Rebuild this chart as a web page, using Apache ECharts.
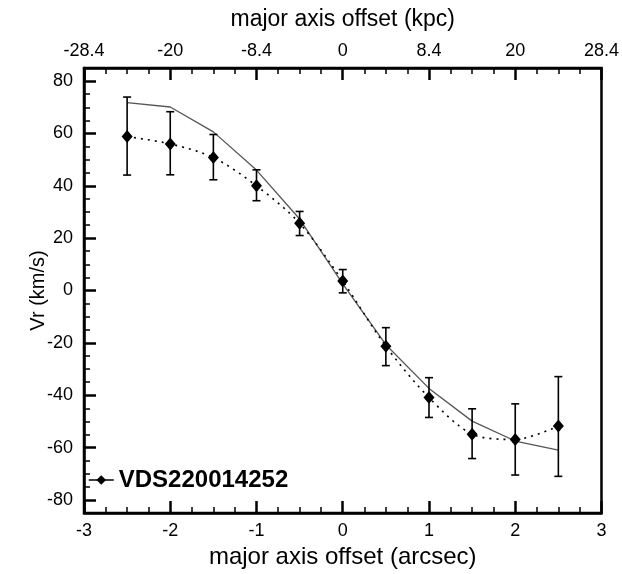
<!DOCTYPE html>
<html><head><meta charset="utf-8">
<script src="https://cdn.jsdelivr.net/npm/echarts@6/dist/echarts.min.js"></script>
<style>html,body{margin:0;padding:0;background:#fff}#chart{width:622px;height:574px}</style>
</head><body><div id="chart"></div>
<script>
const offsets = [-2.5, -2, -1.5, -1, -0.5, 0, 0.5, 1, 1.5, 2, 2.5];
const vrObs = [58.8, 56.0, 50.8, 40.0, 25.7, 3.6, -21.3, -40.9, -54.9, -56.9, -51.8];
const errHigh = [73.9, 68.3, 59.6, 46.1, 30.2, 8.0, -14.2, -33.3, -45.2, -43.3, -32.9];
const errLow = [44.1, 44.2, 42.3, 34.3, 21.0, -0.9, -28.7, -48.5, -64.2, -70.5, -71.0];
const vrModel = [71.8, 70.1, 60.6, 46.0, 27.3, 2.5, -20.7, -37.4, -49.9, -57.5, -61.0];
const arcsecTicks = [-3, -2, -1, 0, 1, 2, 3];
const kpcLabels = ['-28.4', '-20', '-8.4', '0', '8.4', '20', '28.4'];
const yTicks = [-80, -60, -40, -20, 0, 20, 40, 60, 80];
const yMinorTicks = [-75, -70, -65, -55, -50, -45, -35, -30, -25, -15, -10, -5, 5, 10, 15, 25, 30, 35, 45, 50, 55, 65, 70, 75];
const seriesName = 'VDS220014252';

const FONT = "'Liberation Sans', Arial, Helvetica, sans-serif";
const chart = echarts.init(document.getElementById('chart'), null, {renderer: 'canvas'});

function xAxisDef(pos, extra) {
  return Object.assign({
    type: 'value', min: -3, max: 3, interval: 1, position: pos,
    axisLine: {show: true, onZero: false, lineStyle: {color: '#000', width: 2.5}},
    axisTick: {show: true, inside: true, length: 12, lineStyle: {color: '#000', width: 2.5}},
    minorTick: {show: true, splitNumber: 4, length: 6, lineStyle: {color: '#000', width: 1.5}},
    splitLine: {show: false}, minorSplitLine: {show: false},
    nameLocation: 'middle'
  }, extra);
}

const option = {
  animation: false,
  backgroundColor: '#fff',
  textStyle: {fontFamily: FONT},
  grid: {left: 84, right: 20, top: 68, bottom: 60, show: true, borderColor: '#000', borderWidth: 2.5, containLabel: false},
  legend: {
    data: [seriesName], left: 83, top: 463, itemWidth: 25, itemHeight: 12, itemGap: 8,
    lineStyle: {type: 'solid', width: 1.5, color: '#000'},
    textStyle: {fontFamily: FONT, fontSize: 24, fontWeight: 'bold', color: '#000'}
  },
  xAxis: [
    xAxisDef('bottom', {
      name: 'major axis offset (arcsec)', nameGap: 32,
      nameTextStyle: {fontFamily: FONT, fontSize: 24, color: '#000'},
      axisLabel: {fontFamily: FONT, fontSize: 18, color: '#000', margin: 9}
    }),
    xAxisDef('top', {
      name: 'major axis offset (kpc)', nameGap: 37,
      nameTextStyle: {fontFamily: FONT, fontSize: 23, color: '#000'},
      axisLabel: {fontFamily: FONT, fontSize: 18, color: '#000', margin: 8,
        formatter: function (v) { return kpcLabels[arcsecTicks.indexOf(Math.round(v))]; }}
    })
  ],
  yAxis: [
    {
      type: 'value', min: -85, max: 85, position: 'left',
      axisLine: {show: true, onZero: false, lineStyle: {color: '#000', width: 2.5}},
      axisTick: {show: true, inside: true, length: 12, customValues: yTicks, lineStyle: {color: '#000', width: 2.5}},
      axisLabel: {fontFamily: FONT, fontSize: 18, color: '#000', margin: 11, customValues: yTicks},
      splitLine: {show: false},
      name: 'Vr (km/s)', nameLocation: 'middle', nameGap: 36, nameRotate: 90, nameMoveOverlap: false,
      nameTextStyle: {fontFamily: FONT, fontSize: 20, color: '#000'}
    },
    {
      type: 'value', min: -85, max: 85, position: 'left',
      axisLine: {show: false, onZero: false},
      axisTick: {show: true, inside: true, length: 6, customValues: yMinorTicks, lineStyle: {color: '#000', width: 1.5}},
      axisLabel: {show: false},
      splitLine: {show: false}
    }
  ],
  series: [
    {
      type: 'line', name: 'model', xAxisIndex: 0, yAxisIndex: 0,
      data: offsets.map((x, i) => [x, vrModel[i]]),
      symbol: 'none', lineStyle: {color: '#555', width: 1.3}, z: 2, silent: true
    },
    {
      type: 'custom', name: 'errors', xAxisIndex: 0, yAxisIndex: 0, z: 3,
      data: offsets.map((x, i) => [x, errLow[i], errHigh[i]]),
      encode: {x: 0, y: [1, 2]},
      renderItem: function (params, api) {
        const x = api.value(0);
        const lo = api.coord([x, api.value(1)]);
        const hi = api.coord([x, api.value(2)]);
        const w = 4;
        const style = {stroke: '#000', lineWidth: 1.6};
        return {type: 'group', children: [
          {type: 'line', shape: {x1: hi[0], y1: hi[1], x2: lo[0], y2: lo[1]}, style: style},
          {type: 'line', shape: {x1: hi[0] - w, y1: hi[1], x2: hi[0] + w, y2: hi[1]}, style: style},
          {type: 'line', shape: {x1: lo[0] - w, y1: lo[1], x2: lo[0] + w, y2: lo[1]}, style: style}
        ]};
      }
    },
    {
      type: 'line', name: seriesName, xAxisIndex: 0, yAxisIndex: 0,
      data: offsets.map((x, i) => [x, vrObs[i]]),
      symbol: 'diamond', symbolSize: [11, 13], smooth: 0.3,
      lineStyle: {color: '#000', width: 1.6, type: [2, 5]},
      itemStyle: {color: '#000'}, z: 4
    }
  ]
};
chart.setOption(option);
</script></body></html>
